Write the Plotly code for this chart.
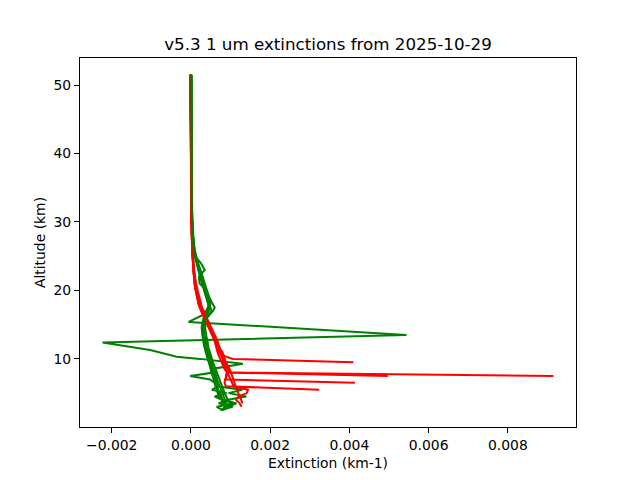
import plotly.graph_objects as go

# Altitude grid (km), from top to bottom
ALT = [51.5, 45, 40, 35, 32, 30, 28, 26, 25,
       24, 23, 22, 21, 20, 19, 18,
       17.5, 17, 16.5, 16, 15.5, 15, 14.5, 14, 13.5, 13,
       12.5, 12, 11.5, 11, 10.5, 10, 9.5, 9, 8.5, 8,
       7.5, 7, 6.5, 6, 5.5, 5, 4.5, 4, 3.5, 3, 2.5]

# Extinction values in units of 1e-4 km-1, from top altitude downward
UNIT = 1e-4

RED_1 = [-0.2, -0.1, 0.0, 0.0, 0.0, 0.1, 0.2, 0.3, 0.4,
         0.5, 0.6, 0.7, 0.9, 1.2, 1.6, 2.0,
         2.4, 2.7, 3.0, 3.4, 3.9, 4.2, 4.7, 5.0, 5.4, 5.9,
         6.1, 6.5, 6.6, 7.2, 8.0, 10.6, 41.0]
RED_2 = [-0.1, 0.0, 0.0, 0.0, 0.1, 0.2, 0.3, 0.4, 0.5,
         0.6, 0.7, 0.9, 1.1, 1.4, 1.8, 2.3,
         2.6, 2.9, 3.3, 3.7, 4.1, 4.6, 5.0, 5.4, 5.8, 6.1,
         6.4, 6.7, 6.9, 7.3, 7.6, 8.0, 8.3, 8.7, 9.2, 9.6,
         49.7]
RED_3 = [-0.2, 0.0, 0.0, 0.0, 0.0, 0.1, 0.2, 0.3, 0.4,
         0.5, 0.6, 0.8, 1.0, 1.3, 1.7, 2.1,
         2.4, 2.8, 3.1, 3.6, 4.0, 4.5, 4.9, 5.3, 5.7, 6.2,
         6.6, 6.9, 7.4, 7.1, 7.8, 8.6, 8.2, 9.0, 9.4, 10.2,
         91.5]
RED_4 = [-0.1, 0.0, 0.0, 0.1, 0.1, 0.2, 0.3, 0.4, 0.5,
         0.6, 0.7, 0.9, 1.2, 1.5, 2.0, 2.4,
         2.7, 3.1, 3.5, 3.9, 4.4, 4.8, 5.2, 5.7, 6.0, 6.4,
         6.8, 7.0, 7.3, 7.9, 8.3, 8.1, 8.6, 9.0, 9.3, 9.0,
         8.8, 9.0, 41.4]
RED_5 = [-0.2, -0.1, 0.0, 0.0, 0.1, 0.2, 0.3, 0.4, 0.5,
         0.6, 0.8, 1.0, 1.3, 1.7, 2.1, 2.5,
         2.8, 3.2, 3.6, 4.0, 4.3, 4.7, 5.1, 5.5, 5.9, 6.3,
         6.6, 6.9, 7.2, 7.5, 7.8, 8.2, 8.5, 8.3, 8.8, 9.3,
         9.0, 8.6, 8.5, 8.8, 32.4]
RED_6 = [-0.1, 0.0, 0.0, 0.0, 0.1, 0.1, 0.2, 0.3, 0.4,
         0.5, 0.6, 0.7, 0.9, 1.2, 1.5, 1.9,
         2.2, 2.6, 2.9, 3.3, 3.7, 4.1, 4.5, 4.9, 5.3, 5.7,
         6.0, 6.2, 6.5, 6.7, 7.0, 7.4, 7.8, 8.1, 8.5, 9.2,
         9.6, 9.9, 10.4, 10.8, 14.4, 14.1, 12.0, 11.4, 12.3, 12.8]
RED_7 = [0.0, 0.0, 0.0, 0.0, 0.0, 0.1, 0.2, 0.3, 0.4,
         0.5, 0.6, 0.8, 1.0, 1.3, 1.6, 2.0,
         2.3, 2.6, 3.0, 3.4, 3.8, 4.2, 4.6, 5.1, 5.5, 5.9,
         6.3, 6.6, 6.9, 7.4, 7.9, 8.4, 8.9, 9.4, 9.8, 10.1,
         10.5, 10.7, 11.0, 11.3, 11.6, 11.9, 12.3, 12.7, 13.0]

# Green profile with its own altitude sampling
GREEN_1_ALT = [51.5, 45, 40, 35, 30, 27, 25, 23, 21, 19.5, 18.5, 17.5, 16.5,
               15.4, 13.5, 12.4, 11.3, 10.3, 10.0, 9.3, 8.5, 7.5, 6.5, 5.5,
               4.5, 3.5, 2.5]
GREEN_1 = [0.1, 0.1, 0.1, 0.1, 0.3, 0.6, 1.2, 2.2, 3.2, 4.2, 5.0, 4.3, 3.3,
           -0.6, 54.4, -22.3, -10.3, -3.6, 2.3, 13.1, 5.0, 5.5, 6.0, 6.5,
           7.0, 9.0, 8.0]
GREEN_2 = [0.1, 0.1, 0.1, 0.2, 0.2, 0.3, 0.5, 0.8, 1.2,
           1.7, 2.2, 2.7, 3.2, 3.8, 4.3, 4.9,
           4.8, 4.4, 3.9, 3.5, 3.2, 3.0, 3.0, 3.1, 3.2, 3.3,
           3.4, 3.6, 3.8, 4.0, 4.3, 4.5, 4.8, 5.0, 5.3, 5.6,
           -0.2, 4.8, 6.0, 6.3, 6.7, 7.0, 7.4, 7.8, 8.2, 8.6, 8.3]
GREEN_3 = [0.1, 0.1, 0.1, 0.1, 0.2, 0.3, 0.4, 0.7, 1.0,
           2.5, 3.5, 2.0, 2.2, 4.0, 4.4, 4.6,
           4.3, 4.0, 3.6, 3.2, 2.9, 2.8, 2.7, 2.8, 3.0, 3.1,
           3.3, 3.4, 3.6, 3.9, 4.1, 4.4, 4.6, 4.9, 5.2, 5.5,
           5.7, 6.0, 6.3, 6.5, 6.9, 7.3, 7.6, 8.0, 8.4, 8.8, 7.6]
GREEN_4 = [0.1, 0.1, 0.1, 0.2, 0.3, 0.4, 0.6, 0.9, 1.3,
           1.8, 2.4, 2.9, 3.5, 4.0, 4.6, 5.5,
           6.0, 5.6, 4.8, 4.0, 3.7, 3.6, 3.6, 3.7, 3.8, 4.0,
           4.2, 4.3, 4.5, 4.8, 5.0, 5.3, 5.6, 5.9, 6.2, 6.5,
           6.8, 7.1, 7.4, 7.8, 8.1, 8.5, 8.9, 9.3, 9.8, 10.6]
GREEN_5 = [0.0, 0.1, 0.1, 0.1, 0.2, 0.3, 0.5, 0.8, 1.1,
           1.6, 2.0, 2.5, 3.0, 3.6, 4.1, 4.6,
           4.5, 4.2, 3.8, 3.4, 3.1, 2.9, 2.8, 2.8, 2.9, 3.0,
           3.1, 3.3, 3.5, 3.7, 4.0, 4.2, 4.5, 4.7, 5.0, 5.3,
           5.5, 5.8, 6.1, 6.4, 13.0, 9.5, 14.0, 9.0, 7.0, 10.5, 7.5]
GREEN_6 = [0.1, 0.1, 0.1, 0.1, 0.2, 0.3, 0.4, 0.7, 1.0,
           1.5, 1.9, 2.4, 2.9, 3.4, 3.9, 4.4,
           4.6, 4.5, 4.1, 3.7, 3.4, 3.2, 3.1, 3.1, 3.2, 3.4,
           3.5, 3.7, 3.9, 4.2, 4.4, 4.7, 5.0, 5.2, 5.5, 5.8,
           6.0, 6.3, 6.6, 6.9, 5.3, 9.0, 6.0, 8.0, 11.0, 6.5, 8.0]
GREEN_7 = [0.1, 0.1, 0.1, 0.2, 0.2, 0.3, 0.5, 0.7, 1.0,
           1.4, 1.9, 2.3, 2.8, 3.3, 3.9, 4.4,
           4.9, 5.2, 4.6, 4.0, 3.6, 3.4, 3.3, 3.3, 3.4, 3.6,
           3.8, 4.0, 4.3, 4.5, 4.8, 5.0, 5.3, 5.6, 5.9, 6.1,
           6.4, 6.6, 6.9, 7.2, 7.5, 7.9, 8.2, 8.6, 11.5, 9.0]

X_TICKS = [-0.002, 0.0, 0.002, 0.004, 0.006, 0.008]
X_TICK_TEXT = ["\u22120.002", "0.000", "0.002", "0.004", "0.006", "0.008"]
Y_TICKS = [10, 20, 30, 40, 50]
X_RANGE = [-0.0028, 0.00972]
Y_RANGE = [0.05, 53.95]

RED = "#ff0000"
GREEN = "#008000"

profiles = [
    (RED_1, ALT, RED), (GREEN_1, GREEN_1_ALT, GREEN),
    (RED_2, ALT, RED), (GREEN_2, ALT, GREEN),
    (RED_3, ALT, RED), (GREEN_3, ALT, GREEN),
    (RED_4, ALT, RED), (GREEN_4, ALT, GREEN),
    (RED_5, ALT, RED), (GREEN_5, ALT, GREEN),
    (RED_6, ALT, RED), (GREEN_6, ALT, GREEN),
    (RED_7, ALT, RED), (GREEN_7, ALT, GREEN),
]

fig = go.Figure()
for vals, alts, color in profiles:
    fig.add_trace(go.Scatter(
        x=[v * UNIT for v in vals],
        y=alts[:len(vals)],
        mode="lines",
        line=dict(color=color, width=2),
        hoverinfo="skip",
    ))

FONT = "DejaVu Sans, Liberation Sans, sans-serif"
axis_common = dict(
    showline=True, linecolor="black", linewidth=1, mirror=True,
    ticks="outside", ticklen=5, tickwidth=1, tickcolor="black",
    showgrid=False, zeroline=False, automargin=False,
    tickfont=dict(family=FONT, size=13.9, color="black"),
)

fig.update_layout(
    width=640, height=480,
    margin=dict(l=80, r=64, t=58, b=53),
    paper_bgcolor="white", plot_bgcolor="white",
    showlegend=False,
    font=dict(family=FONT, size=13.9, color="black"),
    title=dict(
        text="v5.3 1 um extinctions from 2025-10-29",
        x=0.5, xref="paper", xanchor="center",
        y=1 - 44 / 480, yref="container", yanchor="middle",
        font=dict(family=FONT, size=16.7, color="black"),
    ),
    xaxis=dict(
        range=X_RANGE, tickvals=X_TICKS, ticktext=X_TICK_TEXT,
        title=dict(text="Extinction (km-1)", standoff=6,
                   font=dict(family=FONT, size=13.9, color="black")),
        **axis_common,
    ),
    yaxis=dict(
        range=Y_RANGE, tickvals=Y_TICKS,
        title=dict(text="Altitude (km)", standoff=4,
                   font=dict(family=FONT, size=13.9, color="black")),
        **axis_common,
    ),
)

fig.write_html(
    "out.html",
    config={"displayModeBar": False},
    post_script="document.body.style.margin='0';document.body.style.overflow='hidden';",
)
